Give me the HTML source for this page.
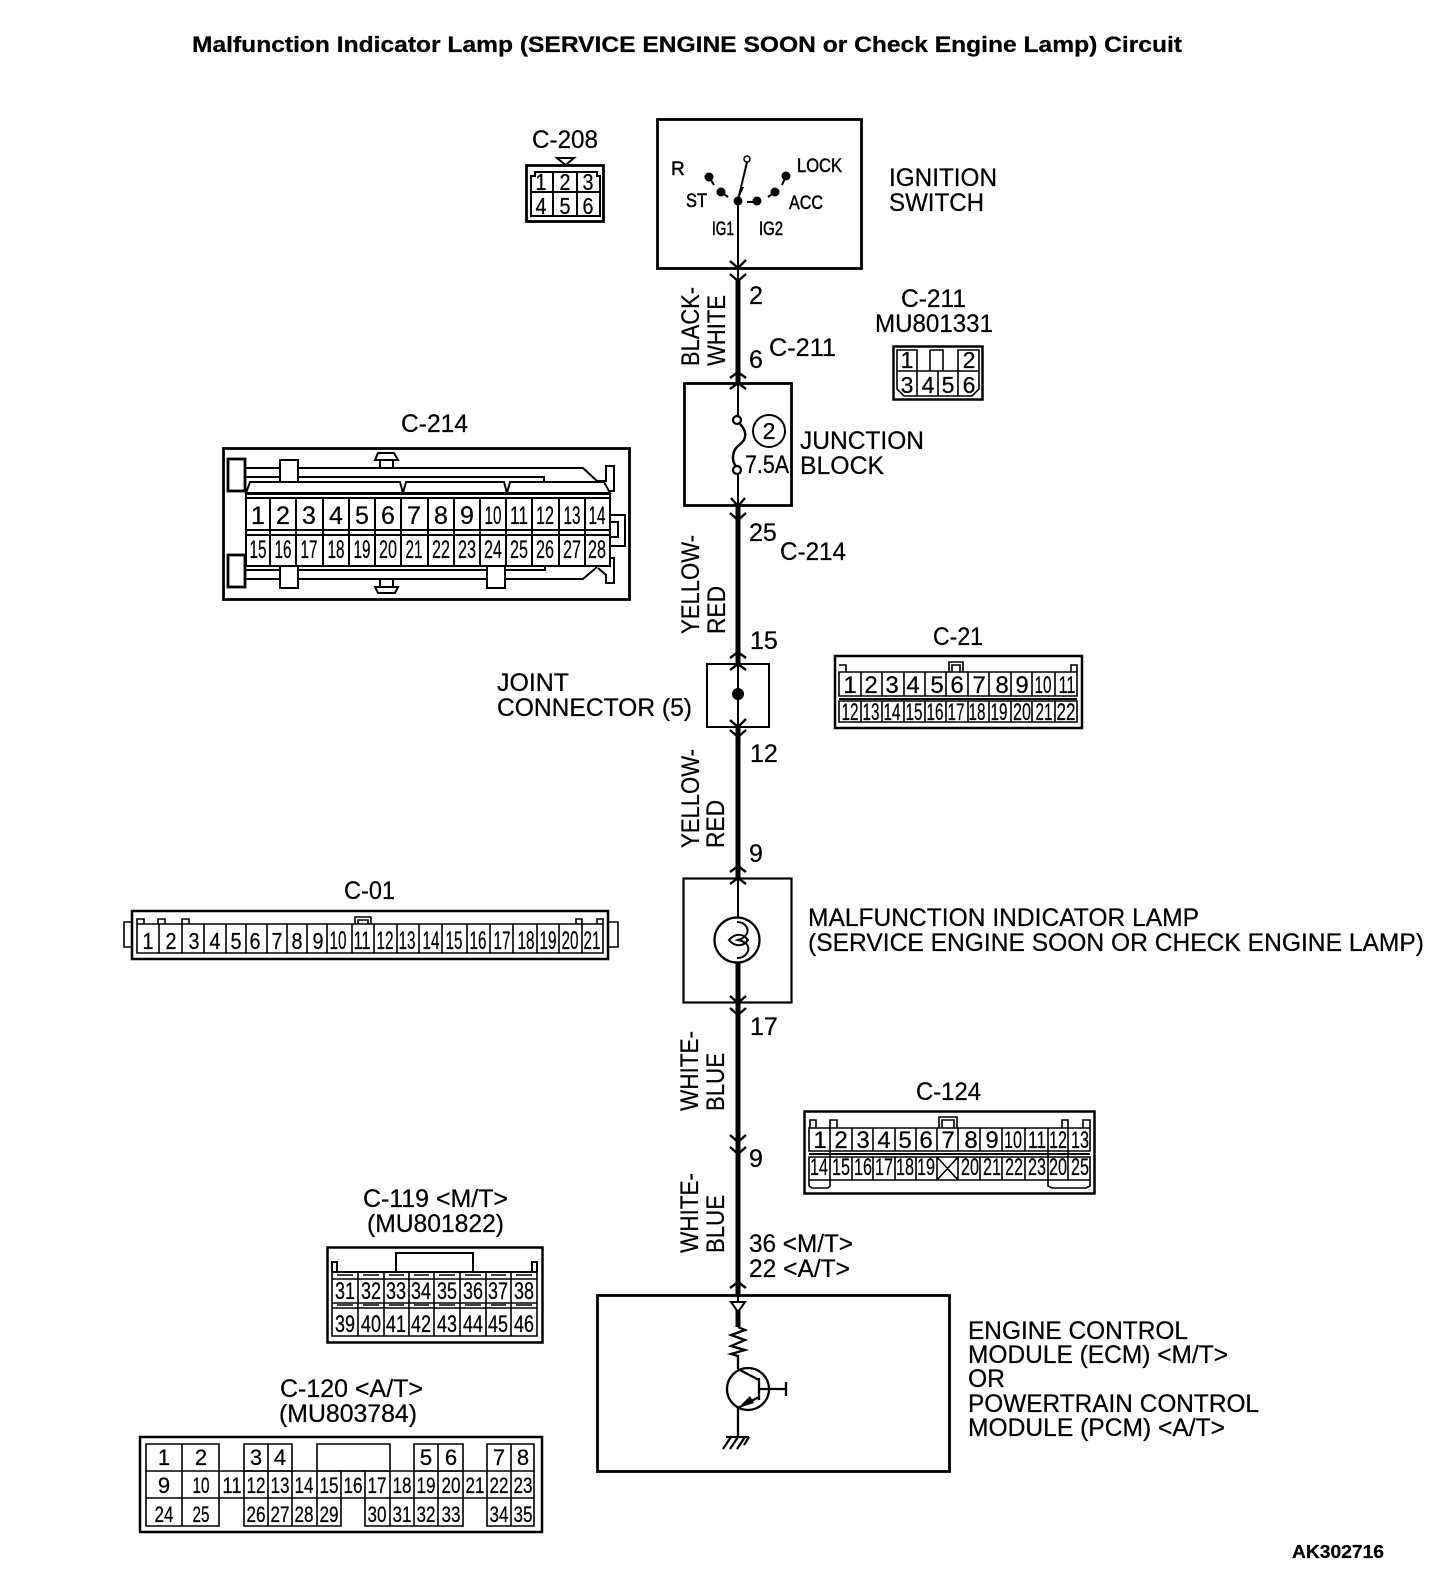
<!DOCTYPE html>
<html><head><meta charset="utf-8"><style>
html,body{margin:0;padding:0;background:#fff}
svg{display:block}
text{font-family:"Liberation Sans",sans-serif;fill:#000;stroke:#000;stroke-width:.25}
.l{font-size:25px}
.s{font-size:19px;stroke-width:.5}
.d{font-size:25px;text-anchor:middle}
.e{font-size:24px;text-anchor:middle}
.c22 text{font-size:22px}
.c23 text{font-size:23px}
.b{font-weight:bold}
.k{fill:none;stroke:#000;stroke-width:2}
.m{fill:none;stroke:#000;stroke-width:1.6}
.o{fill:none;stroke:#000;stroke-width:2.8}
.w{fill:none;stroke:#000;stroke-width:5}
.h{fill:none;stroke:#000;stroke-width:2.4}
.f{fill:#fff;stroke:#000;stroke-width:2}
</style></head><body>
<svg width="1456" height="1586" viewBox="0 0 1456 1586" xmlns="http://www.w3.org/2000/svg">
<rect width="1456" height="1586" fill="#fff"/>
<text x="192" y="52" class="b" font-size="22" textLength="990" lengthAdjust="spacingAndGlyphs">Malfunction Indicator Lamp (SERVICE ENGINE SOON or Check Engine Lamp) Circuit</text>
<text x="1292" y="1558" class="b" font-size="18" textLength="92" lengthAdjust="spacingAndGlyphs">AK302716</text>

<!-- main wire -->
<path class="k" d="M738 202V281M738 383V416M738 474V506M738 664V727M738 878V917M738 1295V1302"/>
<path class="w" d="M738 281V383M738 506V664M738 727V878M738 963V1003M738 1003V1295M738 1302V1327"/>
<path class="h" d="M730 261L738 268L746 260M730 274L738 281L746 274M730 378L738 372L746 378M730 389L738 383L746 389M731 498L738 506L745 498M730 513L738 520L746 513M730 658L738 652L746 658M730 670L738 664L746 670M730 720L738 727L746 719M730 730L738 737L746 730M730 872L738 866L746 872M730 884L738 878L746 884M730 996L738 1003L746 996M730 1008L738 1015L746 1008M730 1135L738 1142L746 1135M730 1147L738 1154L746 1147M730 1288L738 1282L746 1288"/>

<!-- Ignition switch -->
<rect x="657.5" y="119.5" width="204" height="149" class="o"/>
<g>
<circle cx="709" cy="177" r="4.500"/><circle cx="721" cy="192" r="4.500"/><circle cx="738" cy="201" r="4.500"/><circle cx="757" cy="201" r="4.500"/><circle cx="775" cy="192" r="4.500"/><circle cx="786" cy="176" r="4.500"/>
<path class="k" d="M709 177L714 185M721 192L728 197M747 202H753M775 192L768 197M786 176L782 185"/>
<path class="k" d="M738 200L747 162"/>
<path d="M738 200L741 187L744 187Z"/>
<circle cx="747" cy="159" r="3" fill="#fff" stroke="#000" stroke-width="1.5"/>
</g>
<text x="671" y="175" class="s">R</text>
<text x="797" y="172" class="s" textLength="45" lengthAdjust="spacingAndGlyphs">LOCK</text>
<text x="686" y="207" class="s" textLength="21" lengthAdjust="spacingAndGlyphs">ST</text>
<text x="789" y="209" class="s" textLength="34" lengthAdjust="spacingAndGlyphs">ACC</text>
<text x="712" y="235" class="s" textLength="22" lengthAdjust="spacingAndGlyphs">IG1</text>
<text x="759" y="235" class="s" textLength="24" lengthAdjust="spacingAndGlyphs">IG2</text>
<text x="889" y="186" class="l" textLength="108" lengthAdjust="spacingAndGlyphs">IGNITION</text>
<text x="889" y="211" class="l" textLength="95" lengthAdjust="spacingAndGlyphs">SWITCH</text>

<!-- C-208 -->
<text x="532" y="148" class="l" textLength="66" lengthAdjust="spacingAndGlyphs">C-208</text>
<path class="k" d="M557 158H574L565.500 165Z"/>
<rect x="526.500" y="165.500" width="77" height="56" class="o"/>
<path class="k" d="M531 216V176H535V172H597V176H600V216ZM531 192H600M553 172V216M577 172V216"/>
<g class="c23">
<text x="541" y="190" class="d" textLength="11" lengthAdjust="spacingAndGlyphs">1</text><text x="565" y="190" class="d" textLength="11" lengthAdjust="spacingAndGlyphs">2</text><text x="588" y="190" class="d" textLength="11" lengthAdjust="spacingAndGlyphs">3</text>
<text x="541" y="214" class="d" textLength="11" lengthAdjust="spacingAndGlyphs">4</text><text x="565" y="214" class="d" textLength="11" lengthAdjust="spacingAndGlyphs">5</text><text x="588" y="214" class="d" textLength="11" lengthAdjust="spacingAndGlyphs">6</text>
</g>

<!-- wire labels -->
<text transform="translate(699,366) rotate(-90)" class="l" textLength="79" lengthAdjust="spacingAndGlyphs">BLACK-</text>
<text transform="translate(725,366) rotate(-90)" class="l" textLength="71" lengthAdjust="spacingAndGlyphs">WHITE</text>
<text x="749" y="304" class="l">2</text>
<text x="749" y="368" class="l">6</text>
<text x="769" y="356" class="l" textLength="67" lengthAdjust="spacingAndGlyphs">C-211</text>

<!-- C-211 connector -->
<text x="901" y="307" class="l" textLength="65" lengthAdjust="spacingAndGlyphs">C-211</text>
<text x="875" y="332" class="l" textLength="118" lengthAdjust="spacingAndGlyphs">MU801331</text>
<rect x="893.500" y="346.500" width="89" height="53" class="k" style="stroke-width:2.500"/>
<path class="k" d="M897 350H917V371H897ZM930 350H943V371M930 350V371M958 350H979V371H958ZM897 371V389L904 396H972L979 389V371M917 371V396M938 371V396M958 371V396M917 371H958" style="stroke-width:1.600"/>
<g class="c23">
<text x="907" y="368" class="d">1</text><text x="969" y="368" class="d">2</text>
<text x="907" y="393" class="d">3</text><text x="928" y="393" class="d">4</text><text x="948" y="393" class="d">5</text><text x="969" y="393" class="d">6</text>
</g>

<!-- Junction block -->
<rect x="684.500" y="383.500" width="107" height="122" class="o"/>
<path class="k" d="M740 424C744 428 746 433 745 437C744 442 740 444 737 447C733 451 732 458 734 463C735 465 736 466 736 467" style="stroke-width:2.500"/>
<circle cx="737" cy="420" r="4" fill="#fff" stroke="#000" stroke-width="2.200"/>
<circle cx="737" cy="470" r="4" fill="#fff" stroke="#000" stroke-width="2.200"/>
<circle cx="769" cy="431" r="16" fill="#fff" stroke="#000" stroke-width="2"/>
<g class="c23"><text x="769" y="439" class="d">2</text></g>
<text x="745" y="473" class="l" textLength="44" lengthAdjust="spacingAndGlyphs">7.5A</text>
<text x="800" y="449" class="l" textLength="124" lengthAdjust="spacingAndGlyphs">JUNCTION</text>
<text x="800" y="474" class="l" textLength="84" lengthAdjust="spacingAndGlyphs">BLOCK</text>

<!-- C-214 connector -->
<text x="401" y="432" class="l" textLength="67" lengthAdjust="spacingAndGlyphs">C-214</text>
<rect x="223.500" y="448.500" width="406" height="151" class="o"/>
<path class="k" d="M245 468H583L597 481M245 477H544V482M245 570H545V566M245 579H583L597 567M597 481L606 481V466H614V491H606M598 568L606 575V583H614V558H606"/>
<rect x="280" y="460" width="18" height="24" class="f"/>
<rect x="280" y="566" width="18" height="22" class="f"/>
<rect x="487" y="566" width="18" height="22" class="f"/>
<path d="M246 493L250 482H400L403 493L406 482H504L507 493L510 482H604L610 493Z" class="f"/>
<rect x="246" y="494" width="364" height="72" class="f"/>
<path class="k" d="M246 498H610M270 499V566M296 499V566M323 499V566M349 499V566M375 499V566M401 499V566M428 499V566M454 499V566M480 499V566M506 499V566M532 499V566M559 499V566M585 499V566M246 530H610M246 535H610"/>
<rect x="228" y="459" width="17" height="32" class="o" fill="#fff"/>
<rect x="228" y="555" width="17" height="32" class="o" fill="#fff"/>
<path class="k" d="M380 467V461M393 467V461M375 460L378 453H394L398 460ZM380 580V587M393 580V587M375 587H398L395 593H378Z"/>
<path class="k" d="M610 515H625V546H610M610 522H618V537H610"/>
<text x="258" y="524" class="d">1</text><text x="283" y="524" class="d">2</text><text x="309" y="524" class="d">3</text><text x="336" y="524" class="d">4</text><text x="362" y="524" class="d">5</text><text x="388" y="524" class="d">6</text><text x="414" y="524" class="d">7</text><text x="441" y="524" class="d">8</text><text x="467" y="524" class="d">9</text>
<text x="493" y="524" class="d" textLength="17" lengthAdjust="spacingAndGlyphs">10</text><text x="519" y="524" class="d" textLength="18" lengthAdjust="spacingAndGlyphs">11</text><text x="545" y="524" class="d" textLength="18" lengthAdjust="spacingAndGlyphs">12</text><text x="572" y="524" class="d" textLength="17" lengthAdjust="spacingAndGlyphs">13</text><text x="597" y="524" class="d" textLength="17" lengthAdjust="spacingAndGlyphs">14</text>
<text x="258" y="558" class="d" textLength="17" lengthAdjust="spacingAndGlyphs">15</text><text x="283" y="558" class="d" textLength="17" lengthAdjust="spacingAndGlyphs">16</text><text x="309" y="558" class="d" textLength="17" lengthAdjust="spacingAndGlyphs">17</text><text x="336" y="558" class="d" textLength="17" lengthAdjust="spacingAndGlyphs">18</text><text x="362" y="558" class="d" textLength="17" lengthAdjust="spacingAndGlyphs">19</text><text x="388" y="558" class="d" textLength="18" lengthAdjust="spacingAndGlyphs">20</text><text x="414" y="558" class="d" textLength="17" lengthAdjust="spacingAndGlyphs">21</text><text x="441" y="558" class="d" textLength="18" lengthAdjust="spacingAndGlyphs">22</text><text x="467" y="558" class="d" textLength="18" lengthAdjust="spacingAndGlyphs">23</text><text x="493" y="558" class="d" textLength="18" lengthAdjust="spacingAndGlyphs">24</text><text x="519" y="558" class="d" textLength="18" lengthAdjust="spacingAndGlyphs">25</text><text x="545" y="558" class="d" textLength="18" lengthAdjust="spacingAndGlyphs">26</text><text x="572" y="558" class="d" textLength="18" lengthAdjust="spacingAndGlyphs">27</text><text x="597" y="558" class="d" textLength="18" lengthAdjust="spacingAndGlyphs">28</text>

<!-- segment labels -->
<text x="749" y="541" class="l">25</text>
<text x="780" y="560" class="l" textLength="66" lengthAdjust="spacingAndGlyphs">C-214</text>
<text transform="translate(699,634) rotate(-90)" class="l" textLength="99" lengthAdjust="spacingAndGlyphs">YELLOW-</text>
<text transform="translate(725,634) rotate(-90)" class="l" textLength="48" lengthAdjust="spacingAndGlyphs">RED</text>
<text x="750" y="649" class="l">15</text>

<!-- Joint connector -->
<rect x="707" y="664" width="62" height="63" class="k"/>
<circle cx="738" cy="694" r="6"/>
<text x="497" y="691" class="l" textLength="72" lengthAdjust="spacingAndGlyphs">JOINT</text>
<text x="497" y="716" class="l" textLength="195" lengthAdjust="spacingAndGlyphs">CONNECTOR (5)</text>
<text x="750" y="762" class="l">12</text>
<text transform="translate(699,848) rotate(-90)" class="l" textLength="99" lengthAdjust="spacingAndGlyphs">YELLOW-</text>
<text transform="translate(724,848) rotate(-90)" class="l" textLength="48" lengthAdjust="spacingAndGlyphs">RED</text>
<text x="749" y="862" class="l">9</text>

<!-- C-21 -->
<text x="933" y="645" class="l" textLength="50" lengthAdjust="spacingAndGlyphs">C-21</text>
<rect x="835" y="656" width="247" height="72" class="o" style="stroke-width:2.500"/>
<path class="m" d="M839 672H1077V696H839ZM839 701H1077V722H839ZM861 672V696M882 672V696M904 672V696M925 672V696M946 672V696M968 672V696M989 672V696M1011 672V696M1032 672V696M1055 672V696M861 701V722M882 701V722M904 701V722M925 701V722M946 701V722M968 701V722M989 701V722M1011 701V722M1032 701V722M1055 701V722M839 665H846V672M1071 672V665H1077V672M949 672V662H963V672M952 672V665H960V672"/>
<path class="k" d="M839 699H1077"/>
<text x="850" y="693" class="e">1</text><text x="871" y="693" class="e">2</text><text x="892" y="693" class="e">3</text><text x="913" y="693" class="e">4</text><text x="937" y="693" class="e">5</text><text x="957" y="693" class="e">6</text><text x="979" y="693" class="e">7</text><text x="1002" y="693" class="e">8</text><text x="1022" y="693" class="e">9</text><text x="1043" y="693" class="e" textLength="17" lengthAdjust="spacingAndGlyphs">10</text><text x="1067" y="693" class="e" textLength="17" lengthAdjust="spacingAndGlyphs">11</text>
<text x="850" y="720" class="e" textLength="17" lengthAdjust="spacingAndGlyphs">12</text><text x="871" y="720" class="e" textLength="17" lengthAdjust="spacingAndGlyphs">13</text><text x="892" y="720" class="e" textLength="17" lengthAdjust="spacingAndGlyphs">14</text><text x="914" y="720" class="e" textLength="17" lengthAdjust="spacingAndGlyphs">15</text><text x="935" y="720" class="e" textLength="17" lengthAdjust="spacingAndGlyphs">16</text><text x="956" y="720" class="e" textLength="17" lengthAdjust="spacingAndGlyphs">17</text><text x="977" y="720" class="e" textLength="17" lengthAdjust="spacingAndGlyphs">18</text><text x="999" y="720" class="e" textLength="17" lengthAdjust="spacingAndGlyphs">19</text><text x="1022" y="720" class="e" textLength="18" lengthAdjust="spacingAndGlyphs">20</text><text x="1044" y="720" class="e" textLength="17" lengthAdjust="spacingAndGlyphs">21</text><text x="1066" y="720" class="e" textLength="19" lengthAdjust="spacingAndGlyphs">22</text>

<!-- C-01 -->
<text x="344" y="899" class="l" textLength="51" lengthAdjust="spacingAndGlyphs">C-01</text>
<rect x="132" y="911" width="476" height="48" class="k" style="stroke-width:2.500"/>
<path class="m" d="M132 922H124V947H132M608 922H618V947H608M137 924H603V953H137ZM159 924V953M182 924V953M204 924V953M226 924V953M246 924V953M267 924V953M287 924V953M307 924V953M327 924V953M352 924V953M374 924V953M397 924V953M419 924V953M442 924V953M467 924V953M490 924V953M513 924V953M537 924V953M559 924V953M582 924V953M137 924V919H144V924M158 924V919H165V924M182 924V919H189V924M576 924V919H582V924M597 924V919H603V924M355 924V917H371V924M358 924V920H368V924"/>
<g class="c23">
<text x="148" y="949" class="d" textLength="11" lengthAdjust="spacingAndGlyphs">1</text><text x="171" y="949" class="d" textLength="11" lengthAdjust="spacingAndGlyphs">2</text><text x="194" y="949" class="d" textLength="11" lengthAdjust="spacingAndGlyphs">3</text><text x="215" y="949" class="d" textLength="11" lengthAdjust="spacingAndGlyphs">4</text><text x="236" y="949" class="d" textLength="11" lengthAdjust="spacingAndGlyphs">5</text><text x="255" y="949" class="d" textLength="11" lengthAdjust="spacingAndGlyphs">6</text><text x="277" y="949" class="d" textLength="11" lengthAdjust="spacingAndGlyphs">7</text><text x="297" y="949" class="d" textLength="11" lengthAdjust="spacingAndGlyphs">8</text><text x="318" y="949" class="d" textLength="11" lengthAdjust="spacingAndGlyphs">9</text>
</g>
<text x="338" y="949" class="d" textLength="17" lengthAdjust="spacingAndGlyphs">10</text><text x="362" y="949" class="d" textLength="17" lengthAdjust="spacingAndGlyphs">11</text><text x="385" y="949" class="d" textLength="17" lengthAdjust="spacingAndGlyphs">12</text><text x="407" y="949" class="d" textLength="17" lengthAdjust="spacingAndGlyphs">13</text><text x="431" y="949" class="d" textLength="17" lengthAdjust="spacingAndGlyphs">14</text><text x="454" y="949" class="d" textLength="17" lengthAdjust="spacingAndGlyphs">15</text><text x="478" y="949" class="d" textLength="17" lengthAdjust="spacingAndGlyphs">16</text><text x="502" y="949" class="d" textLength="17" lengthAdjust="spacingAndGlyphs">17</text><text x="526" y="949" class="d" textLength="17" lengthAdjust="spacingAndGlyphs">18</text><text x="548" y="949" class="d" textLength="17" lengthAdjust="spacingAndGlyphs">19</text><text x="570" y="949" class="d" textLength="17" lengthAdjust="spacingAndGlyphs">20</text><text x="592" y="949" class="d" textLength="17" lengthAdjust="spacingAndGlyphs">21</text>

<!-- MIL -->
<rect x="683.500" y="878.500" width="108" height="124" class="k" style="stroke-width:2.200"/>
<circle cx="737" cy="940" r="22.500" fill="#fff" stroke="#000" stroke-width="2.200"/>
<path class="k" d="M738 878V917M737 922C746 922 750 930 746 935C744 938 741 939 738 940C743 941 750 944 748 951C746 956 742 958 737 958M729 940C735 933 743 933 748 940C743 947 735 947 729 940Z"/>
<text x="808" y="926" class="l" textLength="391" lengthAdjust="spacingAndGlyphs">MALFUNCTION INDICATOR LAMP</text>
<text x="808" y="951" class="l" textLength="616" lengthAdjust="spacingAndGlyphs">(SERVICE ENGINE SOON OR CHECK ENGINE LAMP)</text>
<text x="750" y="1035" class="l">17</text>
<text transform="translate(698,1111) rotate(-90)" class="l" textLength="80" lengthAdjust="spacingAndGlyphs">WHITE-</text>
<text transform="translate(724,1111) rotate(-90)" class="l" textLength="58" lengthAdjust="spacingAndGlyphs">BLUE</text>
<text x="749" y="1167" class="l">9</text>
<text transform="translate(698,1253) rotate(-90)" class="l" textLength="80" lengthAdjust="spacingAndGlyphs">WHITE-</text>
<text transform="translate(724,1253) rotate(-90)" class="l" textLength="58" lengthAdjust="spacingAndGlyphs">BLUE</text>
<text x="749" y="1252" class="l" textLength="104" lengthAdjust="spacingAndGlyphs">36 &lt;M/T&gt;</text>
<text x="749" y="1277" class="l" textLength="101" lengthAdjust="spacingAndGlyphs">22 &lt;A/T&gt;</text>

<!-- C-124 -->
<text x="916" y="1100" class="l" textLength="65" lengthAdjust="spacingAndGlyphs">C-124</text>
<rect x="804.500" y="1111.500" width="290" height="82" class="k" style="stroke-width:2.500"/>
<path class="m" d="M809 1128H1090V1151H809ZM809 1157H1090V1180H809ZM830 1128V1180M852 1128V1151M873 1128V1151M895 1128V1151M916 1128V1151M937 1128V1151M958 1128V1151M980 1128V1151M1002 1128V1151M1025 1128V1151M1048 1128V1180M1068 1128V1180M852 1157V1180M873 1157V1180M895 1157V1180M916 1157V1180M937 1157V1180M958 1157V1180M980 1157V1180M1002 1157V1180M1025 1157V1180M937 1180L958 1157M937 1157L958 1180M810 1128V1120H816V1128M830 1128V1120H837V1128M1062 1128V1120H1068V1128M1083 1128V1120H1090V1128M939 1128V1117H957V1128M942 1128V1120H954V1128M809 1180V1186L812 1188H828L830 1186V1180M1048 1180V1186L1052 1188H1086L1090 1186V1180"/>
<path class="k" d="M809 1154H1090"/>
<text x="820" y="1148" class="e">1</text><text x="841" y="1148" class="e">2</text><text x="863" y="1148" class="e">3</text><text x="884" y="1148" class="e">4</text><text x="905" y="1148" class="e">5</text><text x="926" y="1148" class="e">6</text><text x="948" y="1148" class="e">7</text><text x="971" y="1148" class="e">8</text><text x="992" y="1148" class="e">9</text><text x="1013" y="1148" class="e" textLength="18" lengthAdjust="spacingAndGlyphs">10</text><text x="1037" y="1148" class="e" textLength="18" lengthAdjust="spacingAndGlyphs">11</text><text x="1058" y="1148" class="e" textLength="18" lengthAdjust="spacingAndGlyphs">12</text><text x="1080" y="1148" class="e" textLength="18" lengthAdjust="spacingAndGlyphs">13</text>
<text x="819" y="1175" class="e" textLength="18" lengthAdjust="spacingAndGlyphs">14</text><text x="841" y="1175" class="e" textLength="18" lengthAdjust="spacingAndGlyphs">15</text><text x="863" y="1175" class="e" textLength="18" lengthAdjust="spacingAndGlyphs">16</text><text x="884" y="1175" class="e" textLength="18" lengthAdjust="spacingAndGlyphs">17</text><text x="905" y="1175" class="e" textLength="18" lengthAdjust="spacingAndGlyphs">18</text><text x="926" y="1175" class="e" textLength="18" lengthAdjust="spacingAndGlyphs">19</text><text x="970" y="1175" class="e" textLength="18" lengthAdjust="spacingAndGlyphs">20</text><text x="992" y="1175" class="e" textLength="18" lengthAdjust="spacingAndGlyphs">21</text><text x="1014" y="1175" class="e" textLength="18" lengthAdjust="spacingAndGlyphs">22</text><text x="1037" y="1175" class="e" textLength="18" lengthAdjust="spacingAndGlyphs">23</text><text x="1058" y="1175" class="e" textLength="18" lengthAdjust="spacingAndGlyphs">20</text><text x="1080" y="1175" class="e" textLength="18" lengthAdjust="spacingAndGlyphs">25</text>

<!-- C-119 -->
<text x="363" y="1207" class="l" textLength="145" lengthAdjust="spacingAndGlyphs">C-119 &lt;M/T&gt;</text>
<text x="367" y="1232" class="l" textLength="137" lengthAdjust="spacingAndGlyphs">(MU801822)</text>
<rect x="327.500" y="1247.500" width="215" height="95" class="k" style="stroke-width:2.500"/>
<path class="k" d="M332 1272H537M396 1272V1253H473V1272M332 1272V1262H337V1272M532 1272V1262H537V1272"/>
<path class="m" d="M332 1279H537V1303H332ZM332 1308H537V1336H332ZM358 1272V1336M384 1272V1336M409 1272V1336M434 1272V1336M460 1272V1336M486 1272V1336M511 1272V1336M332 1272V1336M537 1272V1336"/>
<path class="m" d="M337 1275H353M363 1275H379M389 1275H404M414 1275H429M439 1275H455M465 1275H481M491 1275H506M516 1275H532M337 1305H353M363 1305H379M389 1305H404M414 1305H429M439 1305H455M465 1305H481M491 1305H506M516 1305H532"/>
<text x="345" y="1299" class="e" textLength="20" lengthAdjust="spacingAndGlyphs">31</text><text x="371" y="1299" class="e" textLength="20" lengthAdjust="spacingAndGlyphs">32</text><text x="396" y="1299" class="e" textLength="20" lengthAdjust="spacingAndGlyphs">33</text><text x="421" y="1299" class="e" textLength="20" lengthAdjust="spacingAndGlyphs">34</text><text x="447" y="1299" class="e" textLength="20" lengthAdjust="spacingAndGlyphs">35</text><text x="473" y="1299" class="e" textLength="20" lengthAdjust="spacingAndGlyphs">36</text><text x="498" y="1299" class="e" textLength="20" lengthAdjust="spacingAndGlyphs">37</text><text x="524" y="1299" class="e" textLength="20" lengthAdjust="spacingAndGlyphs">38</text>
<text x="345" y="1332" class="e" textLength="20" lengthAdjust="spacingAndGlyphs">39</text><text x="371" y="1332" class="e" textLength="20" lengthAdjust="spacingAndGlyphs">40</text><text x="396" y="1332" class="e" textLength="20" lengthAdjust="spacingAndGlyphs">41</text><text x="421" y="1332" class="e" textLength="20" lengthAdjust="spacingAndGlyphs">42</text><text x="447" y="1332" class="e" textLength="20" lengthAdjust="spacingAndGlyphs">43</text><text x="473" y="1332" class="e" textLength="20" lengthAdjust="spacingAndGlyphs">44</text><text x="498" y="1332" class="e" textLength="20" lengthAdjust="spacingAndGlyphs">45</text><text x="524" y="1332" class="e" textLength="20" lengthAdjust="spacingAndGlyphs">46</text>

<!-- C-120 -->
<text x="280" y="1397" class="l" textLength="143" lengthAdjust="spacingAndGlyphs">C-120 &lt;A/T&gt;</text>
<text x="279" y="1422" class="l" textLength="138" lengthAdjust="spacingAndGlyphs">(MU803784)</text>
<rect x="140" y="1437" width="402" height="95" class="k" style="stroke-width:2.500"/>
<path class="m" d="M146 1444H219V1471H146ZM182 1444V1471M244 1444H292V1471H244ZM268 1444V1471M317 1444H390V1471H317ZM414 1444H463V1471H414ZM438 1444V1471M487 1444H534V1471H487ZM511 1444V1471"/>
<path class="m" d="M146 1471V1526H219V1471M146 1498H219M182 1471V1526M219 1498H244M244 1471V1526H341V1498M244 1498H534M268 1471V1526M292 1471V1526M317 1471V1526M341 1471V1498M365 1471V1526H414V1471M390 1471V1526M414 1498V1526H463V1498M438 1471V1526M463 1471V1498M487 1471V1526H534V1471M511 1471V1526M219 1471H487M414 1471V1498"/>
<g class="c22">
<text x="164" y="1465" class="e">1</text><text x="201" y="1465" class="e">2</text><text x="256" y="1465" class="e">3</text><text x="280" y="1465" class="e">4</text><text x="426" y="1465" class="e">5</text><text x="451" y="1465" class="e">6</text><text x="499" y="1465" class="e">7</text><text x="523" y="1465" class="e">8</text>
<text x="164" y="1493" class="e">9</text><text x="201" y="1493" class="e" textLength="17" lengthAdjust="spacingAndGlyphs">10</text><text x="232" y="1493" class="e" textLength="19" lengthAdjust="spacingAndGlyphs">11</text><text x="256" y="1493" class="e" textLength="19" lengthAdjust="spacingAndGlyphs">12</text><text x="280" y="1493" class="e" textLength="19" lengthAdjust="spacingAndGlyphs">13</text><text x="304" y="1493" class="e" textLength="19" lengthAdjust="spacingAndGlyphs">14</text><text x="329" y="1493" class="e" textLength="19" lengthAdjust="spacingAndGlyphs">15</text><text x="353" y="1493" class="e" textLength="19" lengthAdjust="spacingAndGlyphs">16</text><text x="377" y="1493" class="e" textLength="19" lengthAdjust="spacingAndGlyphs">17</text><text x="402" y="1493" class="e" textLength="19" lengthAdjust="spacingAndGlyphs">18</text><text x="426" y="1493" class="e" textLength="19" lengthAdjust="spacingAndGlyphs">19</text><text x="451" y="1493" class="e" textLength="19" lengthAdjust="spacingAndGlyphs">20</text><text x="475" y="1493" class="e" textLength="19" lengthAdjust="spacingAndGlyphs">21</text><text x="499" y="1493" class="e" textLength="19" lengthAdjust="spacingAndGlyphs">22</text><text x="523" y="1493" class="e" textLength="19" lengthAdjust="spacingAndGlyphs">23</text>
<text x="164" y="1522" class="e" textLength="19" lengthAdjust="spacingAndGlyphs">24</text><text x="201" y="1522" class="e" textLength="17" lengthAdjust="spacingAndGlyphs">25</text><text x="256" y="1522" class="e" textLength="19" lengthAdjust="spacingAndGlyphs">26</text><text x="280" y="1522" class="e" textLength="19" lengthAdjust="spacingAndGlyphs">27</text><text x="304" y="1522" class="e" textLength="19" lengthAdjust="spacingAndGlyphs">28</text><text x="329" y="1522" class="e" textLength="19" lengthAdjust="spacingAndGlyphs">29</text><text x="377" y="1522" class="e" textLength="19" lengthAdjust="spacingAndGlyphs">30</text><text x="402" y="1522" class="e" textLength="19" lengthAdjust="spacingAndGlyphs">31</text><text x="426" y="1522" class="e" textLength="19" lengthAdjust="spacingAndGlyphs">32</text><text x="451" y="1522" class="e" textLength="19" lengthAdjust="spacingAndGlyphs">33</text><text x="499" y="1522" class="e" textLength="19" lengthAdjust="spacingAndGlyphs">34</text><text x="523" y="1522" class="e" textLength="19" lengthAdjust="spacingAndGlyphs">35</text>
</g>

<!-- ECM -->
<rect x="597.500" y="1295.500" width="352" height="176" class="o"/>
<path d="M731 1302H745L738 1312Z" fill="#fff" stroke="#000" stroke-width="2"/>
<path class="k" d="M738 1327L745 1330L731 1335L745 1340L731 1346L745 1350L731 1354L738 1356V1369" style="stroke-width:2.300"/>
<circle cx="748" cy="1389" r="21" fill="none" stroke="#000" stroke-width="2.300"/>
<path class="k" d="M738 1369L759 1380M759 1378V1400M759 1389H786M786 1382V1396M759 1397L738 1408V1436M726 1437H749" style="stroke-width:2.300"/>
<path d="M738 1408L750 1396L754 1403Z"/>
<path class="k" d="M731 1437L723 1449M738 1437L730 1449M745 1437L737 1449M749 1437L744 1445" style="stroke-width:2.200"/>
<text x="968" y="1339" class="l" textLength="220" lengthAdjust="spacingAndGlyphs">ENGINE CONTROL</text>
<text x="968" y="1363" class="l" textLength="260" lengthAdjust="spacingAndGlyphs">MODULE (ECM) &lt;M/T&gt;</text>
<text x="968" y="1387" class="l" textLength="37" lengthAdjust="spacingAndGlyphs">OR</text>
<text x="968" y="1412" class="l" textLength="291" lengthAdjust="spacingAndGlyphs">POWERTRAIN CONTROL</text>
<text x="968" y="1436" class="l" textLength="257" lengthAdjust="spacingAndGlyphs">MODULE (PCM) &lt;A/T&gt;</text>
</svg>
</body></html>
